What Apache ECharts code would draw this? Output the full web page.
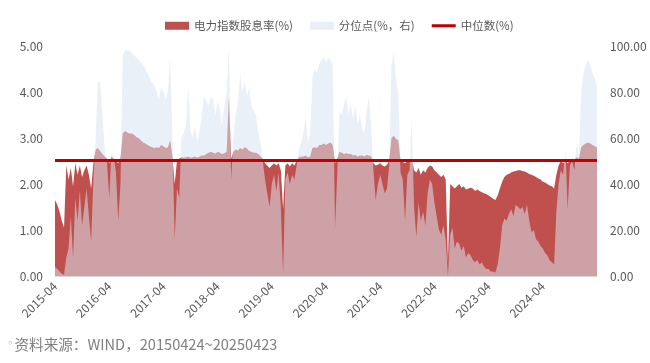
<!DOCTYPE html>
<html>
<head>
<meta charset="utf-8">
<script src="https://cdn.jsdelivr.net/npm/echarts@6/dist/echarts.min.js"></script>
<style>
html,body{margin:0;padding:0;background:#fff;}
#chart{width:650px;height:363px;}
</style>
</head>
<body>
<div id="chart"></div>
<script>
// Semi-monthly sample dates, 2015-04-24 ... 2025-04-23
const dates = ['2015-04-24'];
for (let k = 0; k < 120; k++) {
  const m0 = 4 + k; // months after 2015-04
  const y = 2015 + Math.floor(m0 / 12);
  const m = (m0 % 12) + 1;
  const mm = (m < 10 ? '0' : '') + m;
  dates.push(y + '-' + mm + '-09');
  dates.push(y + '-' + mm + (k === 119 ? '-23' : '-24'));
}

// 电力指数股息率(%) — left axis
const dividendYield = [
  1.65,1.55,1.4,1.2,1.05, 2.4,2.1,2.35,1.95,2.45,
  2.2,2.4,2.15,2.3,2.4, 2.2,1.9,2.45,2.75,2.78,
  2.72,2.65,2.6,2.55,2.45, 2.6,2.55,2.5,2.45,2.55,
  3.1,3.15,3.12,3.1,3.1, 3.07,3.02,3.0,2.95,2.9,
  2.88,2.85,2.82,2.8,2.78, 2.8,2.78,2.85,2.82,2.78,
  2.8,2.95,2.6,2.0,2.5, 2.55,2.58,2.57,2.58,2.6,
  2.57,2.58,2.6,2.57,2.6, 2.62,2.62,2.65,2.68,2.7,
  2.68,2.66,2.7,2.68,2.65, 2.67,2.7,3.9,2.55,2.7,
  2.75,2.73,2.78,2.75,2.8, 2.77,2.72,2.7,2.68,2.68,
  2.65,2.6,2.55,2.45,2.4, 2.35,2.4,2.45,2.4,2.45,
  2.3,1.45,2.4,2.45,2.38, 2.45,2.4,2.5,2.58,2.6,
  2.6,2.62,2.58,2.6,2.78, 2.8,2.78,2.85,2.85,2.88,
  2.85,2.88,2.9,2.85,2.45, 2.55,2.7,2.68,2.65,2.67,
  2.65,2.65,2.62,2.63,2.6, 2.62,2.62,2.6,2.63,2.62,
  2.6,2.45,2.4,2.42,2.45, 2.4,2.38,2.42,2.5,3.0,
  3.05,2.98,2.95,2.5,2.48, 2.45,2.5,2.52,2.55,2.3,
  2.25,2.35,2.2,2.3,2.25, 2.35,2.4,2.38,2.3,2.25,
  2.2,2.15,2.2,2.1,0.3, 2.0,1.95,1.9,1.95,2.0,
  1.92,1.95,1.88,1.9,1.92, 1.9,1.85,1.88,1.85,1.82,
  1.8,1.78,1.75,1.72,1.68, 1.65,1.75,1.9,2.05,2.15,
  2.2,2.22,2.25,2.27,2.28, 2.3,2.3,2.28,2.27,2.25,
  2.22,2.2,2.18,2.15,2.12, 2.1,2.05,2.03,2.0,1.97,
  1.95,1.9,2.2,2.4,2.5, 2.45,2.5,2.45,2.5,2.55,
  2.52,2.58,2.55,2.8,2.85, 2.88,2.9,2.88,2.85,2.82,
  2.8
];

// 分位点(%，右) — right axis
const percentile = [
  4,3,2,1,0.5, 8,12,26,8,34,
  24,37,22,30,38, 26,15,42,60,85,
  84,70,55,50,34, 54,52,45,24,40,
  96,98,98,98,97, 96,95,94,93,92,
  90,88,86,84,83, 80,77,82,80,77,
  80,95,60,16,38, 34,60,62,66,82,
  63,60,65,58,63, 70,78,76,74,78,
  77,70,76,72,66, 74,80,99.5,42,60,
  70,75,88,80,85, 78,82,74,72,70,
  62,58,50,42,36, 30,40,44,37,45,
  30,1,42,45,40, 44,42,48,55,58,
  62,69,58,62,86, 90,88,92,94,95,
  93,95,94,92,21, 45,72,70,75,78,
  70,75,68,74,66, 70,64,62,72,78,
  65,46,33,40,44, 40,36,38,48,92,
  97,85,80,45,42, 24,44,46,69,30,
  17,32,24,28,22, 36,42,40,32,26,
  20,18,22,16,0, 18,21,12,15,14,
  11,13,8,10,9, 7,6,7,5,6,
  4,3,3,2,2, 1.5,5,12,22,25,
  24,27,29,26,31, 30,29,30,27,31,
  24,19,20,16,15, 13,12,10,9,7,
  6,5,28,40,46, 44,56,29,48,50,
  46,58,52,80,88, 92,94,92,88,86,
  82
];

const medianValue = 2.51;
const leftTicks = [0, 5, 1];     // min, max, interval
const rightTicks = [0, 100, 20];
const seriesNames = ['电力指数股息率(%)', '分位点(%，右)', '中位数(%)'];
const sourceBullet = '◦';
const sourceNote = '资料来源：WIND，20150424~20250423';

const FONT = '"Noto Sans CJK SC", "Noto Sans", sans-serif';
const chart = echarts.init(document.getElementById('chart'), null, {renderer: 'canvas'});

const option = {
  animation: false,
  backgroundColor: '#ffffff',
  textStyle: {fontFamily: FONT},
  legend: {
    top: 15,
    left: 160,
    itemWidth: 24,
    itemHeight: 8,
    itemGap: 17,
    textStyle: {color: '#595959', fontSize: 11.5, fontFamily: FONT},
    data: [
      {name: seriesNames[0], icon: 'rect', itemStyle: {color: '#C0504D'}},
      {name: seriesNames[1], icon: 'rect', itemStyle: {color: '#E9EFF6'}},
      {name: seriesNames[2], icon: 'path://M0,0H24V3H0Z', itemStyle: {color: '#C00000'}}
    ]
  },
  grid: {left: 55, right: 53, top: 46, bottom: 87, containLabel: false},
  xAxis: {
    type: 'category',
    data: dates,
    boundaryGap: false,
    axisLine: {show: true, lineStyle: {color: '#D9D9D9'}},
    axisTick: {show: false},
    splitLine: {show: false},
    axisLabel: {
      interval: function (idx) { return idx % 24 === 0 && idx < dates.length - 1; },
      rotate: 45,
      margin: 8,
      color: '#595959',
      fontSize: 12,
      fontFamily: FONT,
      formatter: function (v) { return v.slice(0, 7); }
    }
  },
  yAxis: [
    {
      type: 'value',
      min: leftTicks[0], max: leftTicks[1], interval: leftTicks[2],
      axisLine: {show: false}, axisTick: {show: false}, splitLine: {show: false},
      axisLabel: {color: '#595959', fontSize: 12, margin: 12, fontFamily: FONT,
        formatter: function (v) { return v.toFixed(2); }}
    },
    {
      type: 'value',
      position: 'right',
      min: rightTicks[0], max: rightTicks[1], interval: rightTicks[2],
      axisLine: {show: false}, axisTick: {show: false}, splitLine: {show: false},
      axisLabel: {color: '#595959', fontSize: 12, margin: 13, fontFamily: FONT,
        formatter: function (v) { return v.toFixed(2); }}
    }
  ],
  series: [
    {
      name: seriesNames[0],
      type: 'line',
      yAxisIndex: 0,
      data: dividendYield,
      symbol: 'none',
      color: '#C0504D',
      lineStyle: {width: 0, opacity: 0},
      areaStyle: {color: '#C0504D', opacity: 1},
      z: 1
    },
    {
      name: seriesNames[1],
      type: 'line',
      yAxisIndex: 1,
      data: percentile,
      symbol: 'none',
      color: '#E9EFF6',
      lineStyle: {width: 0, opacity: 0},
      areaStyle: {color: '#D9E3F0', opacity: 0.55},
      z: 2
    },
    {
      name: seriesNames[2],
      type: 'line',
      yAxisIndex: 0,
      data: [],
      symbol: 'none',
      color: '#C00000',
      lineStyle: {color: '#C00000', width: 3},
      z: 3,
      markLine: {
        silent: true,
        symbol: ['none', 'none'],
        label: {show: false},
        lineStyle: {color: '#C00000', width: 3, type: 'solid'},
        data: [{yAxis: medianValue}]
      }
    }
  ],
  graphic: [
    {
      type: 'text',
      left: 7,
      top: 337,
      style: {
        text: '{b|' + sourceBullet + '}' + sourceNote,
        fill: '#7F7F7F',
        font: '14.6px ' + FONT,
        rich: {
          b: {fontFamily: 'DejaVu Sans', fontSize: 11, fill: '#A6A6A6', padding: [0, 1, 0, 0]}
        }
      }
    }
  ]
};
chart.setOption(option);
</script>
</body>
</html>
